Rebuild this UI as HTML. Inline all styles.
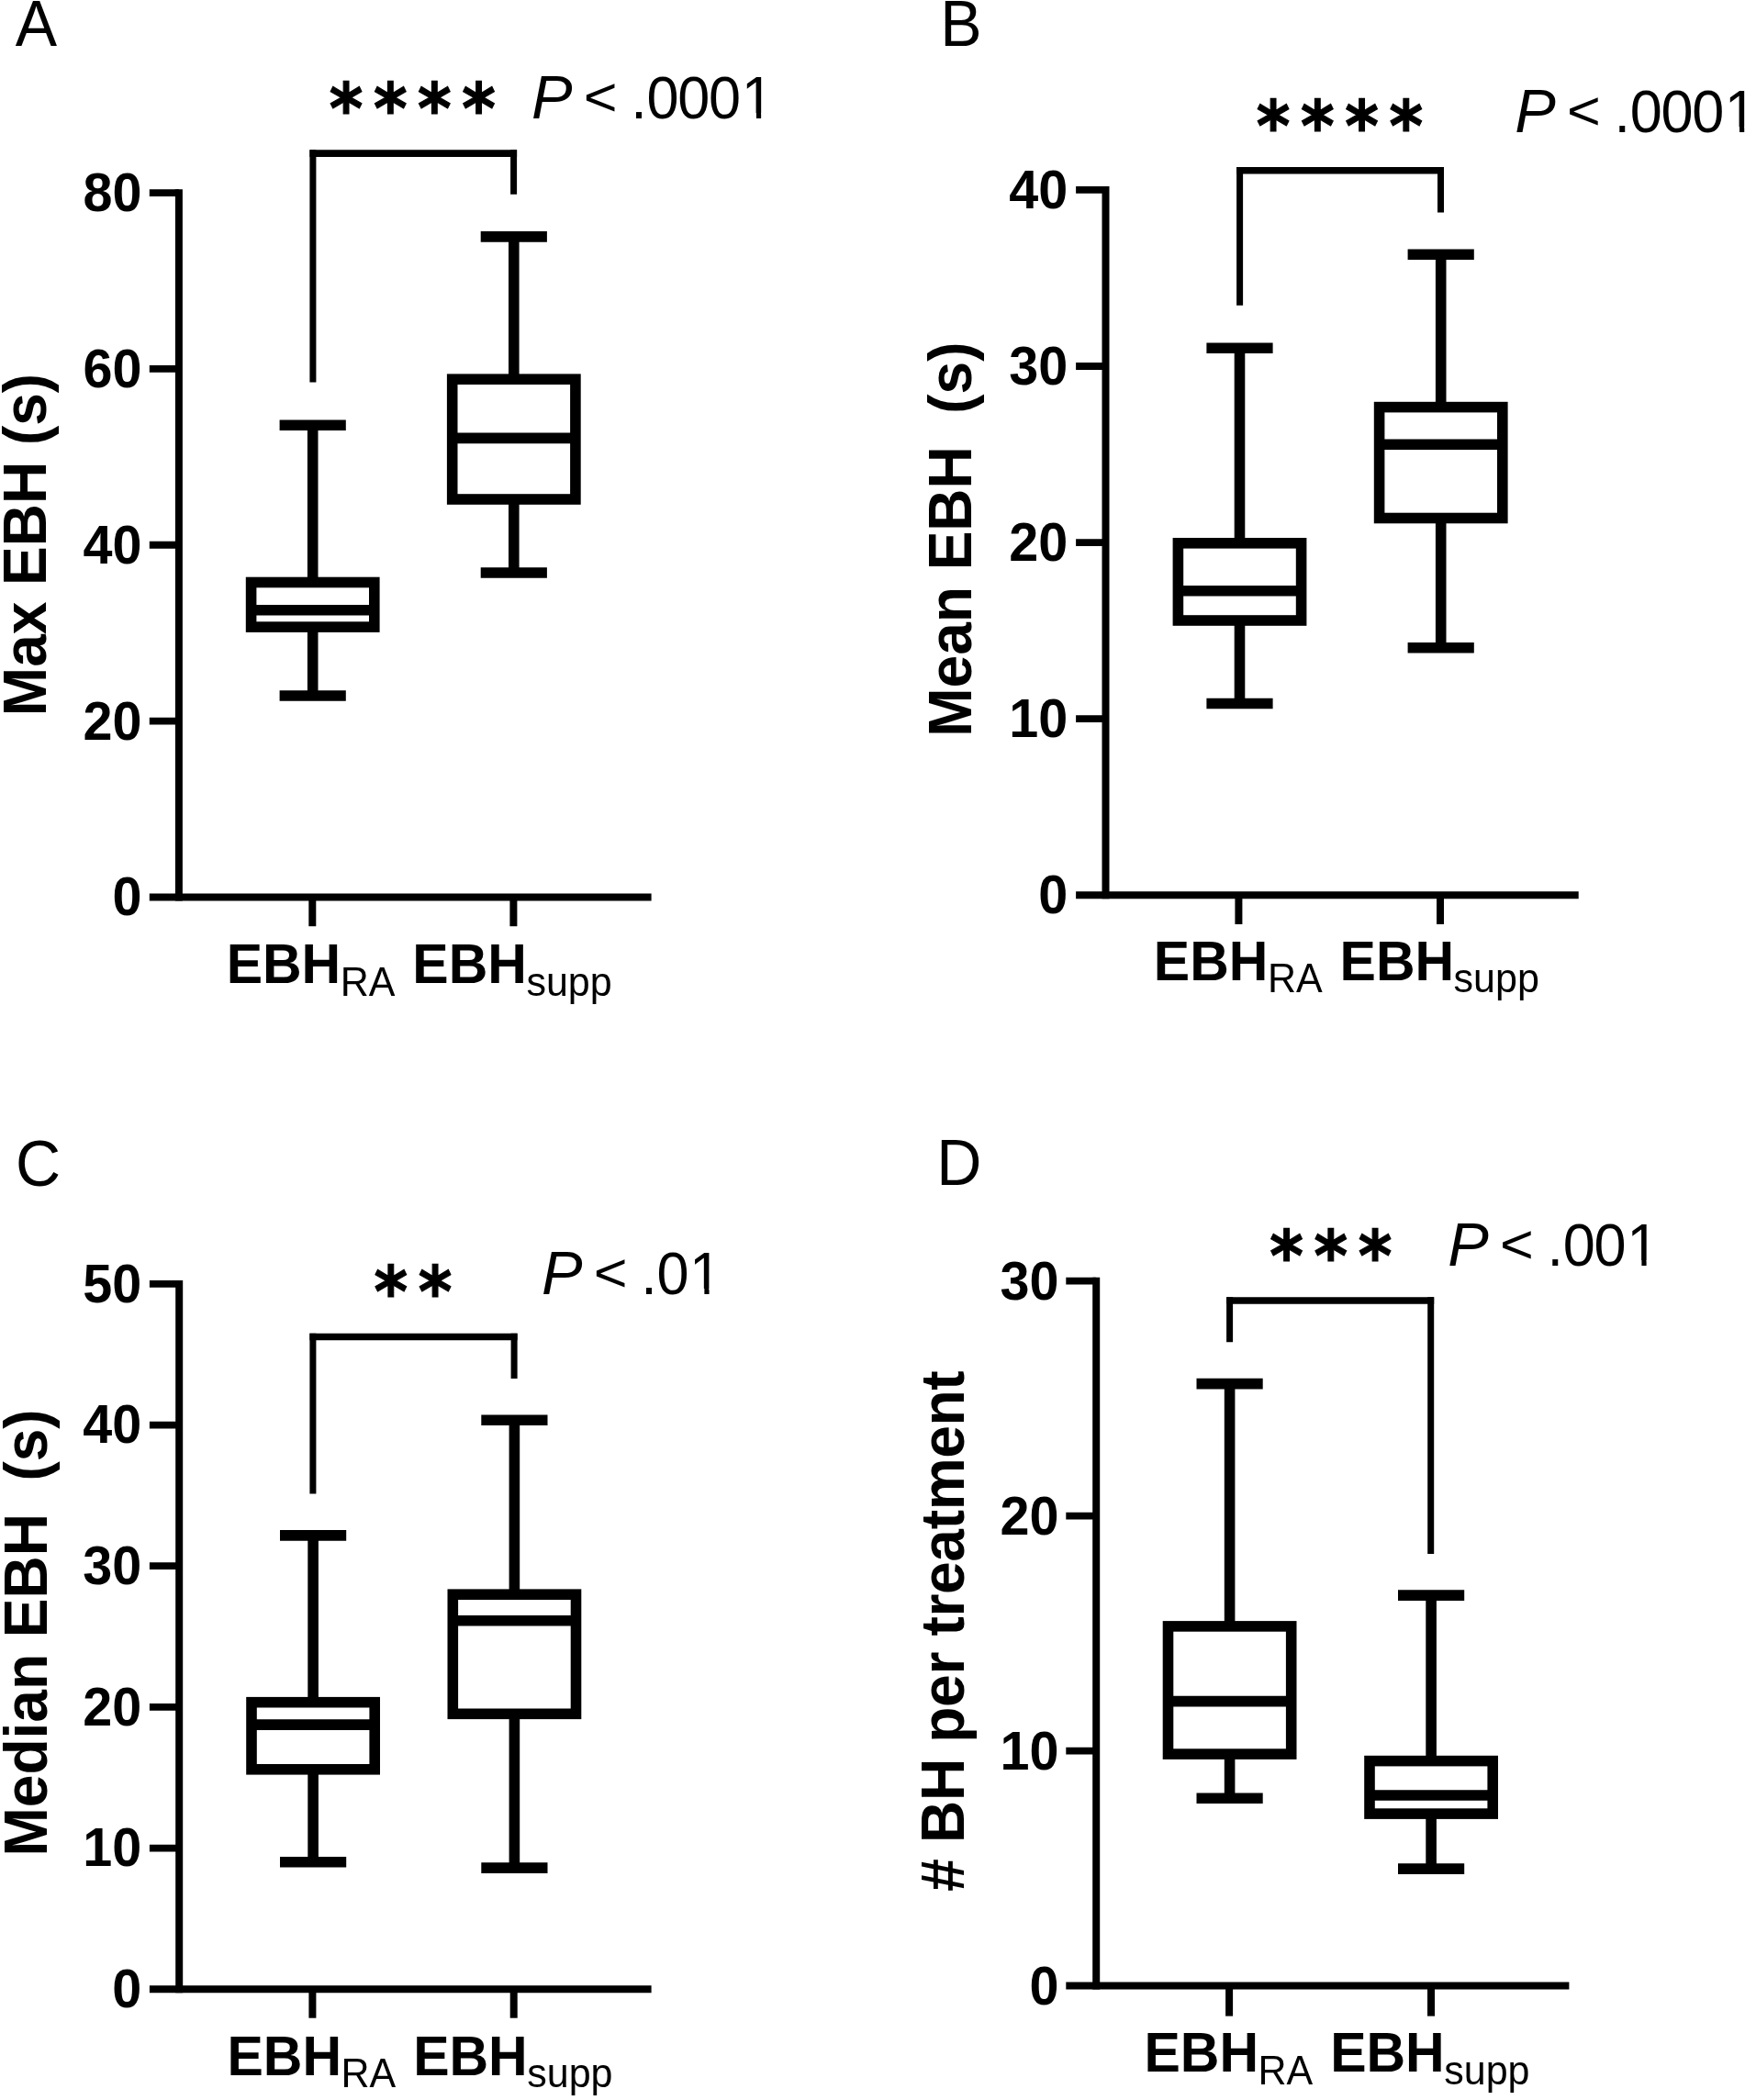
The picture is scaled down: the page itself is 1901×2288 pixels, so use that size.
<!DOCTYPE html>
<html lang="en">
<head>
<meta charset="utf-8">
<title>EBH box plots</title>
<style>
html,body{margin:0;padding:0;background:#fff;}
body{width:1901px;height:2288px;overflow:hidden;font-family:"Liberation Sans",sans-serif;}
svg{display:block;will-change:transform;}
svg path, svg rect{stroke:#000;fill:none;}
svg rect{fill:#fff;}
svg text{fill:#000;}
</style>
</head>
<body>
<svg width="1901" height="2288" viewBox="0 0 1901 2288">
<rect x="0" y="0" width="1901" height="2288" style="fill:#fff;stroke:none"/>
<g>
<path d="M194.9,206.2 V981.4" stroke-width="8.0"/>
<path d="M162.8,977.4 H709.6" stroke-width="8.0"/>
<text transform="translate(154.5,997.33) scale(1,1.04)" font-family="'Liberation Sans', sans-serif" font-size="57.5" font-weight="bold" font-style="normal" text-anchor="end" >0</text>
<path d="M162.8,785.58 H194.9" stroke-width="7.8"/>
<text transform="translate(154.5,805.51) scale(1,1.04)" font-family="'Liberation Sans', sans-serif" font-size="57.5" font-weight="bold" font-style="normal" text-anchor="end" >20</text>
<path d="M162.8,593.75 H194.9" stroke-width="7.8"/>
<text transform="translate(154.5,613.68) scale(1,1.04)" font-family="'Liberation Sans', sans-serif" font-size="57.5" font-weight="bold" font-style="normal" text-anchor="end" >40</text>
<path d="M162.8,401.93 H194.9" stroke-width="7.8"/>
<text transform="translate(154.5,421.86) scale(1,1.04)" font-family="'Liberation Sans', sans-serif" font-size="57.5" font-weight="bold" font-style="normal" text-anchor="end" >60</text>
<path d="M162.8,210.1 H194.9" stroke-width="7.8"/>
<text transform="translate(154.5,230.03) scale(1,1.04)" font-family="'Liberation Sans', sans-serif" font-size="57.5" font-weight="bold" font-style="normal" text-anchor="end" >80</text>
<path d="M340.3,977.4 V1009.2" stroke-width="8.0"/>
<path d="M559.4,977.4 V1009.2" stroke-width="8.0"/>
<text transform="translate(246.67,1071.1) scale(1,1.04)" font-family="'Liberation Sans', sans-serif" font-size="59" font-weight="bold" font-style="normal" text-anchor="start" >EBH</text>
<text transform="translate(370.72,1084.6) scale(1,1.04)" font-family="'Liberation Sans', sans-serif" font-size="43" font-weight="normal" font-style="normal" text-anchor="start" >RA</text>
<text transform="translate(449.37,1071.1) scale(1,1.04)" font-family="'Liberation Sans', sans-serif" font-size="59" font-weight="bold" font-style="normal" text-anchor="start" >EBH</text>
<text transform="translate(573.42,1084.6) scale(1,1.04)" font-family="'Liberation Sans', sans-serif" font-size="43" font-weight="normal" font-style="normal" text-anchor="start" >supp</text>
<text transform="translate(50.3,593.5) rotate(-90) scale(1,1.04)" font-family="'Liberation Sans', sans-serif" font-size="64" font-weight="bold" font-style="normal" text-anchor="middle" xml:space="preserve" style="white-space:pre" >Max EBH (s)</text>
<text transform="translate(16.8,50) scale(1,1.04)" font-family="'Liberation Sans', sans-serif" font-size="68" font-weight="normal" font-style="normal" text-anchor="start" >A</text>
<path d="M304.6,463.2 H376.8 M304.6,758 H376.8 M340.7,463.2 V634.5 M340.7,683.1 V758" stroke-width="11.6"/>
<rect x="273.6" y="634.5" width="134.2" height="48.6" stroke-width="11.6" fill="#fff"/>
<path d="M273.6,664.7 H407.8" stroke-width="11.6"/>
<path d="M523.7,257.9 H595.9 M523.7,624 H595.9 M559.8,257.9 V413.2 M559.8,544 V624" stroke-width="11.6"/>
<rect x="492.7" y="413.2" width="134.2" height="130.8" stroke-width="11.6" fill="#fff"/>
<path d="M492.7,477.4 H626.9" stroke-width="11.6"/>
<path d="M340.9,416.5 V163.3 M559.6,163.3 V211.8" stroke-width="7.0"/>
<path d="M337.4,167.1 H563.1" stroke-width="7.6"/>
<text transform="translate(358.65,145.12) scale(1,1.093)" font-family="'DejaVu Sans', 'Liberation Sans', sans-serif" font-size="70" font-weight="bold" font-style="normal" text-anchor="start" letter-spacing="11.63" stroke="#000" stroke-width="1.1" stroke-linejoin="miter">****</text>
<text transform="translate(579.11,129.1) scale(1.06,1.055)" font-family="'Liberation Sans', sans-serif" font-size="63" font-weight="normal" font-style="italic" text-anchor="start" >P</text>
<text transform="translate(635.85,125.8) scale(1,0.93)" font-family="'Liberation Sans', sans-serif" font-size="63" font-weight="normal" font-style="normal" text-anchor="start" >&lt;</text>
<text transform="translate(687.33,129.1) scale(1,1.04)" font-family="'Liberation Sans', sans-serif" font-size="63" font-weight="normal" font-style="normal" text-anchor="start" >.</text>
<text transform="translate(704.59,129.1) scale(1,1.04)" font-family="'Liberation Sans', sans-serif" font-size="63" font-weight="normal" font-style="normal" text-anchor="start" letter-spacing="-1.3">000</text>
<clipPath id="c1A"><path d="M802.68,59.1 H852.68 V123.3 H829.13 V132.1 H823.93 V123.3 H802.68 Z"/></clipPath>
<g clip-path="url(#c1A)">
<text transform="translate(807.68,129.1) scale(1,1.04)" font-family="'Liberation Sans', sans-serif" font-size="63" font-weight="normal" font-style="normal" text-anchor="start" >1</text>
</g>
</g>
<g>
<path d="M1204.5,203 V979.2" stroke-width="8.0"/>
<path d="M1172.1,975.2 H1719.7" stroke-width="8.0"/>
<text transform="translate(1163.2,995.13) scale(1,1.04)" font-family="'Liberation Sans', sans-serif" font-size="57.5" font-weight="bold" font-style="normal" text-anchor="end" >0</text>
<path d="M1172.1,783.12 H1204.5" stroke-width="7.8"/>
<text transform="translate(1163.2,803.06) scale(1,1.04)" font-family="'Liberation Sans', sans-serif" font-size="57.5" font-weight="bold" font-style="normal" text-anchor="end" >10</text>
<path d="M1172.1,591.05 H1204.5" stroke-width="7.8"/>
<text transform="translate(1163.2,610.98) scale(1,1.04)" font-family="'Liberation Sans', sans-serif" font-size="57.5" font-weight="bold" font-style="normal" text-anchor="end" >20</text>
<path d="M1172.1,398.98 H1204.5" stroke-width="7.8"/>
<text transform="translate(1163.2,418.91) scale(1,1.04)" font-family="'Liberation Sans', sans-serif" font-size="57.5" font-weight="bold" font-style="normal" text-anchor="end" >30</text>
<path d="M1172.1,206.9 H1204.5" stroke-width="7.8"/>
<text transform="translate(1163.2,226.83) scale(1,1.04)" font-family="'Liberation Sans', sans-serif" font-size="57.5" font-weight="bold" font-style="normal" text-anchor="end" >40</text>
<path d="M1349.4,975.2 V1007" stroke-width="8.0"/>
<path d="M1569,975.2 V1007" stroke-width="8.0"/>
<text transform="translate(1256.87,1067.9) scale(1,1.04)" font-family="'Liberation Sans', sans-serif" font-size="59" font-weight="bold" font-style="normal" text-anchor="start" >EBH</text>
<text transform="translate(1380.92,1081.4) scale(1,1.04)" font-family="'Liberation Sans', sans-serif" font-size="43" font-weight="normal" font-style="normal" text-anchor="start" >RA</text>
<text transform="translate(1459.57,1067.9) scale(1,1.04)" font-family="'Liberation Sans', sans-serif" font-size="59" font-weight="bold" font-style="normal" text-anchor="start" >EBH</text>
<text transform="translate(1583.62,1081.4) scale(1,1.04)" font-family="'Liberation Sans', sans-serif" font-size="43" font-weight="normal" font-style="normal" text-anchor="start" >supp</text>
<text transform="translate(1057.7,587.6) rotate(-90) scale(1,1.04)" font-family="'Liberation Sans', sans-serif" font-size="64" font-weight="bold" font-style="normal" text-anchor="middle" xml:space="preserve" style="white-space:pre" >Mean EBH  (s)</text>
<text transform="translate(1024.3,50) scale(1,1.04)" font-family="'Liberation Sans', sans-serif" font-size="68" font-weight="normal" font-style="normal" text-anchor="start" >B</text>
<path d="M1314.4,379.2 H1386.6 M1314.4,766.5 H1386.6 M1350.5,379.2 V591.8 M1350.5,676 V766.5" stroke-width="11.6"/>
<rect x="1283.4" y="591.8" width="134.2" height="84.2" stroke-width="11.6" fill="#fff"/>
<path d="M1283.4,643.8 H1417.6" stroke-width="11.6"/>
<path d="M1533.6,277.2 H1605.8 M1533.6,705.7 H1605.8 M1569.7,277.2 V443.6 M1569.7,564.5 V705.7" stroke-width="11.6"/>
<rect x="1502.6" y="443.6" width="134.2" height="120.9" stroke-width="11.6" fill="#fff"/>
<path d="M1502.6,484.3 H1636.8" stroke-width="11.6"/>
<path d="M1350.6,332.7 V181.9 M1569.5,181.9 V231.6" stroke-width="7.0"/>
<path d="M1347.1,185.7 H1573" stroke-width="7.6"/>
<text transform="translate(1368.75,163.92) scale(1,1.093)" font-family="'DejaVu Sans', 'Liberation Sans', sans-serif" font-size="70" font-weight="bold" font-style="normal" text-anchor="start" letter-spacing="11.63" stroke="#000" stroke-width="1.1" stroke-linejoin="miter">****</text>
<text transform="translate(1650.21,144) scale(1.06,1.055)" font-family="'Liberation Sans', sans-serif" font-size="63" font-weight="normal" font-style="italic" text-anchor="start" >P</text>
<text transform="translate(1706.95,140.7) scale(1,0.93)" font-family="'Liberation Sans', sans-serif" font-size="63" font-weight="normal" font-style="normal" text-anchor="start" >&lt;</text>
<text transform="translate(1758.43,144) scale(1,1.04)" font-family="'Liberation Sans', sans-serif" font-size="63" font-weight="normal" font-style="normal" text-anchor="start" >.</text>
<text transform="translate(1775.69,144) scale(1,1.04)" font-family="'Liberation Sans', sans-serif" font-size="63" font-weight="normal" font-style="normal" text-anchor="start" letter-spacing="-1.3">000</text>
<clipPath id="c1B"><path d="M1873.78,74 H1923.78 V138.2 H1900.23 V147 H1895.03 V138.2 H1873.78 Z"/></clipPath>
<g clip-path="url(#c1B)">
<text transform="translate(1878.78,144) scale(1,1.04)" font-family="'Liberation Sans', sans-serif" font-size="63" font-weight="normal" font-style="normal" text-anchor="start" >1</text>
</g>
</g>
<g>
<path d="M195.2,1395 V2171.2" stroke-width="8.0"/>
<path d="M162.9,2167.2 H709.6" stroke-width="8.0"/>
<text transform="translate(154.3,2187.13) scale(1,1.04)" font-family="'Liberation Sans', sans-serif" font-size="57.5" font-weight="bold" font-style="normal" text-anchor="end" >0</text>
<path d="M162.9,2013.54 H195.2" stroke-width="7.8"/>
<text transform="translate(154.3,2033.47) scale(1,1.04)" font-family="'Liberation Sans', sans-serif" font-size="57.5" font-weight="bold" font-style="normal" text-anchor="end" >10</text>
<path d="M162.9,1859.88 H195.2" stroke-width="7.8"/>
<text transform="translate(154.3,1879.81) scale(1,1.04)" font-family="'Liberation Sans', sans-serif" font-size="57.5" font-weight="bold" font-style="normal" text-anchor="end" >20</text>
<path d="M162.9,1706.22 H195.2" stroke-width="7.8"/>
<text transform="translate(154.3,1726.15) scale(1,1.04)" font-family="'Liberation Sans', sans-serif" font-size="57.5" font-weight="bold" font-style="normal" text-anchor="end" >30</text>
<path d="M162.9,1552.56 H195.2" stroke-width="7.8"/>
<text transform="translate(154.3,1572.49) scale(1,1.04)" font-family="'Liberation Sans', sans-serif" font-size="57.5" font-weight="bold" font-style="normal" text-anchor="end" >40</text>
<path d="M162.9,1398.9 H195.2" stroke-width="7.8"/>
<text transform="translate(154.3,1418.83) scale(1,1.04)" font-family="'Liberation Sans', sans-serif" font-size="57.5" font-weight="bold" font-style="normal" text-anchor="end" >50</text>
<path d="M340.4,2167.2 V2198.7" stroke-width="8.0"/>
<path d="M559.7,2167.2 V2198.7" stroke-width="8.0"/>
<text transform="translate(247.47,2260.5) scale(1,1.04)" font-family="'Liberation Sans', sans-serif" font-size="59" font-weight="bold" font-style="normal" text-anchor="start" >EBH</text>
<text transform="translate(371.52,2274) scale(1,1.04)" font-family="'Liberation Sans', sans-serif" font-size="43" font-weight="normal" font-style="normal" text-anchor="start" >RA</text>
<text transform="translate(450.17,2260.5) scale(1,1.04)" font-family="'Liberation Sans', sans-serif" font-size="59" font-weight="bold" font-style="normal" text-anchor="start" >EBH</text>
<text transform="translate(574.22,2274) scale(1,1.04)" font-family="'Liberation Sans', sans-serif" font-size="43" font-weight="normal" font-style="normal" text-anchor="start" >supp</text>
<text transform="translate(50.9,1778.9) rotate(-90) scale(1,1.04)" font-family="'Liberation Sans', sans-serif" font-size="64" font-weight="bold" font-style="normal" text-anchor="middle" xml:space="preserve" style="white-space:pre" >Median EBH  (s)</text>
<text transform="translate(17,1291.6) scale(1,1.04)" font-family="'Liberation Sans', sans-serif" font-size="68" font-weight="normal" font-style="normal" text-anchor="start" >C</text>
<path d="M305,1672.9 H377.2 M305,2028.8 H377.2 M341.1,1672.9 V1854.7 M341.1,1927.8 V2028.8" stroke-width="11.6"/>
<rect x="274" y="1854.7" width="134.2" height="73.1" stroke-width="11.6" fill="#fff"/>
<path d="M274,1879.1 H408.2" stroke-width="11.6"/>
<path d="M524.3,1547.3 H596.5 M524.3,2035.1 H596.5 M560.4,1547.3 V1737.2 M560.4,1867.3 V2035.1" stroke-width="11.6"/>
<rect x="493.3" y="1737.2" width="134.2" height="130.1" stroke-width="11.6" fill="#fff"/>
<path d="M493.3,1765.8 H627.5" stroke-width="11.6"/>
<path d="M340.9,1627.5 V1452.7 M560.1,1452.7 V1502" stroke-width="7.0"/>
<path d="M337.4,1456.5 H563.6" stroke-width="7.6"/>
<text transform="translate(407.45,1434.22) scale(1,1.093)" font-family="'DejaVu Sans', 'Liberation Sans', sans-serif" font-size="70" font-weight="bold" font-style="normal" text-anchor="start" letter-spacing="11.63" stroke="#000" stroke-width="1.1" stroke-linejoin="miter">**</text>
<text transform="translate(590.01,1409.9) scale(1.06,1.055)" font-family="'Liberation Sans', sans-serif" font-size="63" font-weight="normal" font-style="italic" text-anchor="start" >P</text>
<text transform="translate(646.75,1406.6) scale(1,0.93)" font-family="'Liberation Sans', sans-serif" font-size="63" font-weight="normal" font-style="normal" text-anchor="start" >&lt;</text>
<text transform="translate(698.23,1409.9) scale(1,1.04)" font-family="'Liberation Sans', sans-serif" font-size="63" font-weight="normal" font-style="normal" text-anchor="start" >.</text>
<text transform="translate(715.49,1409.9) scale(1,1.04)" font-family="'Liberation Sans', sans-serif" font-size="63" font-weight="normal" font-style="normal" text-anchor="start" letter-spacing="-1.3">0</text>
<clipPath id="c1C"><path d="M746.12,1339.9 H796.12 V1404.1 H772.57 V1412.9 H767.37 V1404.1 H746.12 Z"/></clipPath>
<g clip-path="url(#c1C)">
<text transform="translate(751.12,1409.9) scale(1,1.04)" font-family="'Liberation Sans', sans-serif" font-size="63" font-weight="normal" font-style="normal" text-anchor="start" >1</text>
</g>
</g>
<g>
<path d="M1194.2,1391.7 V2167.6" stroke-width="8.0"/>
<path d="M1161.3,2163.6 H1709.4" stroke-width="8.0"/>
<text transform="translate(1153.4,2183.53) scale(1,1.04)" font-family="'Liberation Sans', sans-serif" font-size="57.5" font-weight="bold" font-style="normal" text-anchor="end" >0</text>
<path d="M1161.3,1907.6 H1194.2" stroke-width="7.8"/>
<text transform="translate(1153.4,1927.53) scale(1,1.04)" font-family="'Liberation Sans', sans-serif" font-size="57.5" font-weight="bold" font-style="normal" text-anchor="end" >10</text>
<path d="M1161.3,1651.6 H1194.2" stroke-width="7.8"/>
<text transform="translate(1153.4,1671.53) scale(1,1.04)" font-family="'Liberation Sans', sans-serif" font-size="57.5" font-weight="bold" font-style="normal" text-anchor="end" >20</text>
<path d="M1161.3,1395.6 H1194.2" stroke-width="7.8"/>
<text transform="translate(1153.4,1415.53) scale(1,1.04)" font-family="'Liberation Sans', sans-serif" font-size="57.5" font-weight="bold" font-style="normal" text-anchor="end" >30</text>
<path d="M1339.1,2163.6 V2196.6" stroke-width="8.0"/>
<path d="M1559,2163.6 V2196.6" stroke-width="8.0"/>
<text transform="translate(1246.47,2257.3) scale(1,1.04)" font-family="'Liberation Sans', sans-serif" font-size="59" font-weight="bold" font-style="normal" text-anchor="start" >EBH</text>
<text transform="translate(1370.52,2270.8) scale(1,1.04)" font-family="'Liberation Sans', sans-serif" font-size="43" font-weight="normal" font-style="normal" text-anchor="start" >RA</text>
<text transform="translate(1449.17,2257.3) scale(1,1.04)" font-family="'Liberation Sans', sans-serif" font-size="59" font-weight="bold" font-style="normal" text-anchor="start" >EBH</text>
<text transform="translate(1573.22,2270.8) scale(1,1.04)" font-family="'Liberation Sans', sans-serif" font-size="43" font-weight="normal" font-style="normal" text-anchor="start" >supp</text>
<text transform="translate(1050,1777.2) rotate(-90) scale(1,1.04)" font-family="'Liberation Sans', sans-serif" font-size="64" font-weight="bold" font-style="normal" text-anchor="middle" xml:space="preserve" style="white-space:pre" letter-spacing="-0.3"># BH per treatment</text>
<text transform="translate(1020.3,1291) scale(1,1.04)" font-family="'Liberation Sans', sans-serif" font-size="68" font-weight="normal" font-style="normal" text-anchor="start" >D</text>
<path d="M1303.5,1507.6 H1375.7 M1303.5,1959.3 H1375.7 M1339.6,1507.6 V1771.9 M1339.6,1911.1 V1959.3" stroke-width="11.6"/>
<rect x="1272.5" y="1771.9" width="134.2" height="139.2" stroke-width="11.6" fill="#fff"/>
<path d="M1272.5,1853.6 H1406.7" stroke-width="11.6"/>
<path d="M1523,1738.1 H1595.2 M1523,2036.1 H1595.2 M1559.1,1738.1 V1918.6 M1559.1,1976.1 V2036.1" stroke-width="11.6"/>
<rect x="1492" y="1918.6" width="134.2" height="57.5" stroke-width="11.6" fill="#fff"/>
<path d="M1492,1956 H1626.2" stroke-width="11.6"/>
<path d="M1339.6,1462.2 V1413.2 M1558.7,1413.2 V1692.9" stroke-width="7.0"/>
<path d="M1336.1,1417 H1562.2" stroke-width="7.6"/>
<text transform="translate(1383.35,1395.42) scale(1,1.093)" font-family="'DejaVu Sans', 'Liberation Sans', sans-serif" font-size="70" font-weight="bold" font-style="normal" text-anchor="start" letter-spacing="11.63" stroke="#000" stroke-width="1.1" stroke-linejoin="miter">***</text>
<text transform="translate(1577.31,1379.1) scale(1.06,1.055)" font-family="'Liberation Sans', sans-serif" font-size="63" font-weight="normal" font-style="italic" text-anchor="start" >P</text>
<text transform="translate(1634.05,1375.8) scale(1,0.93)" font-family="'Liberation Sans', sans-serif" font-size="63" font-weight="normal" font-style="normal" text-anchor="start" >&lt;</text>
<text transform="translate(1685.53,1379.1) scale(1,1.04)" font-family="'Liberation Sans', sans-serif" font-size="63" font-weight="normal" font-style="normal" text-anchor="start" >.</text>
<text transform="translate(1702.79,1379.1) scale(1,1.04)" font-family="'Liberation Sans', sans-serif" font-size="63" font-weight="normal" font-style="normal" text-anchor="start" letter-spacing="-1.3">00</text>
<clipPath id="c1D"><path d="M1767.15,1309.1 H1817.15 V1373.3 H1793.6 V1382.1 H1788.4 V1373.3 H1767.15 Z"/></clipPath>
<g clip-path="url(#c1D)">
<text transform="translate(1772.15,1379.1) scale(1,1.04)" font-family="'Liberation Sans', sans-serif" font-size="63" font-weight="normal" font-style="normal" text-anchor="start" >1</text>
</g>
</g>
</svg>
</body>
</html>
